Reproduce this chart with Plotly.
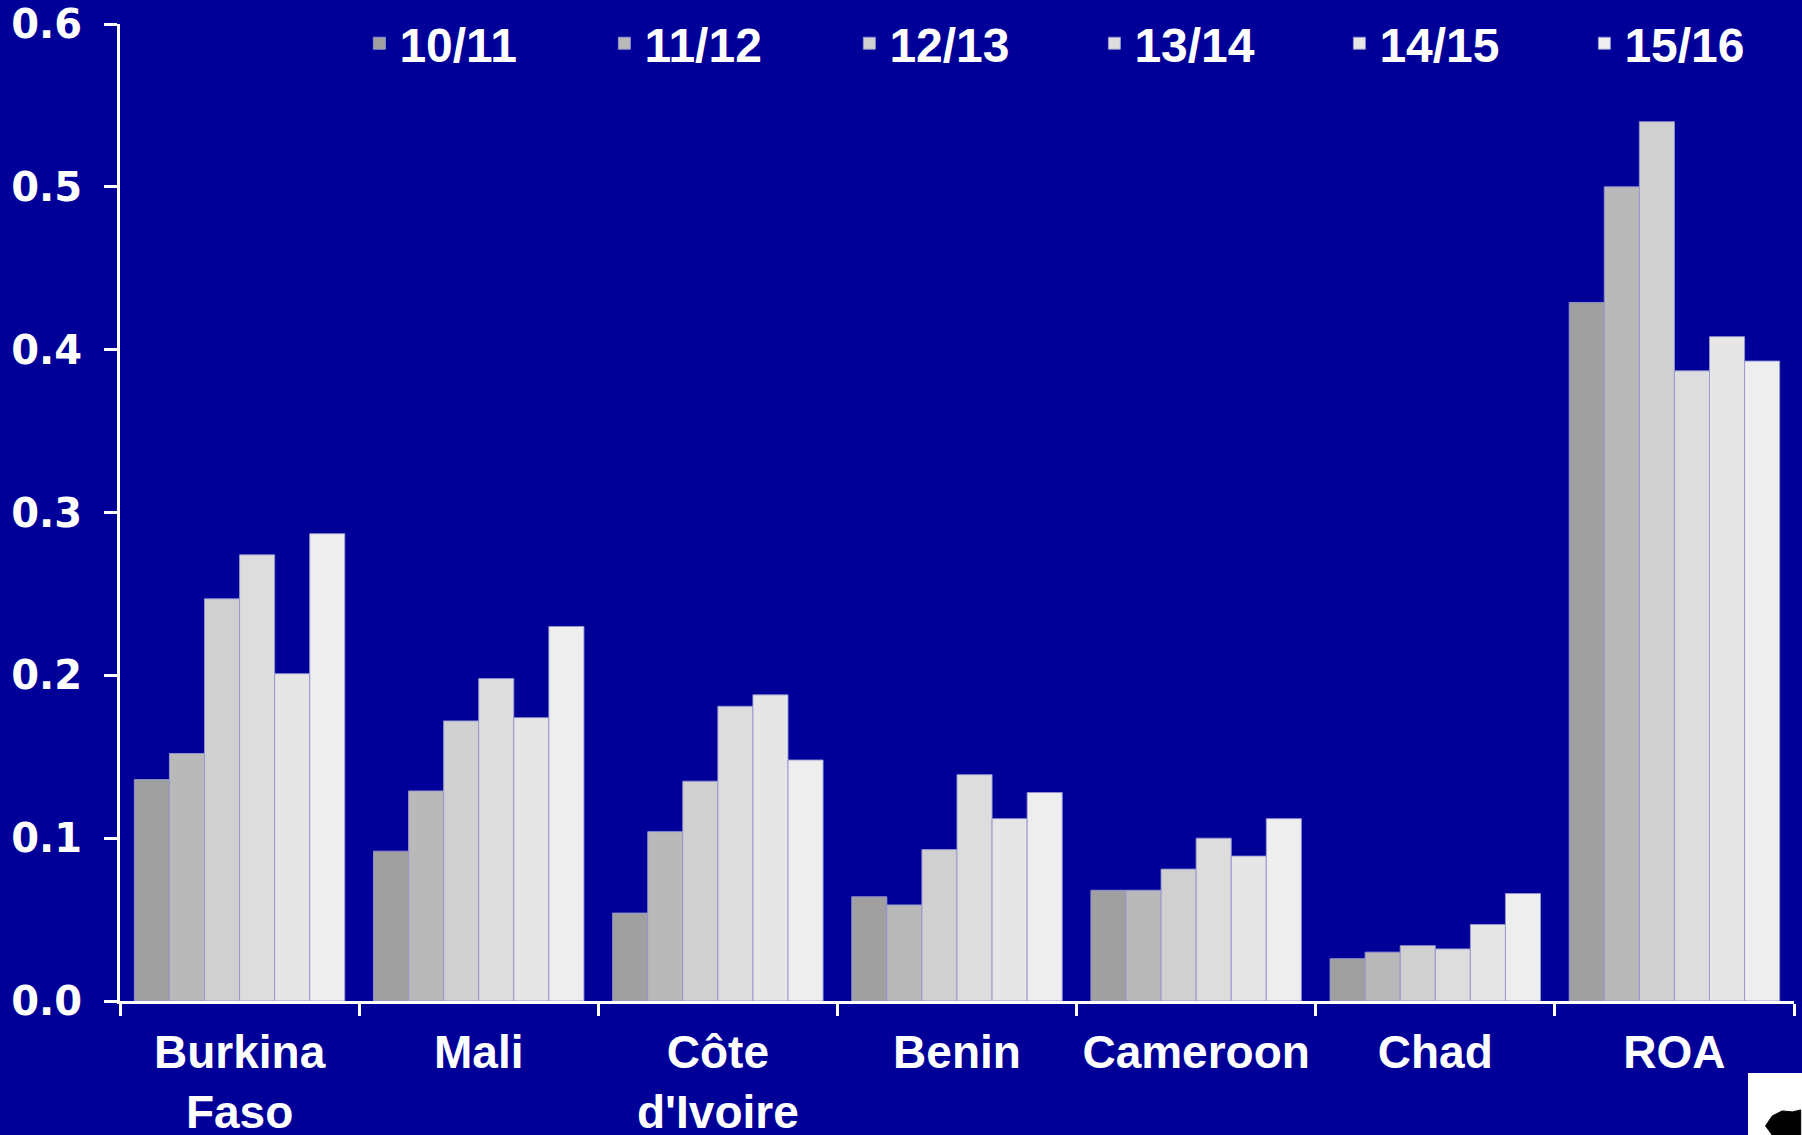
import plotly.graph_objects as go

countries = ['Burkina<br>Faso', 'Mali', "Côte<br>d'Ivoire", 'Benin', 'Cameroon', 'Chad', 'ROA']
seasons = ['10/11', '11/12', '12/13', '13/14', '14/15', '15/16']

# values per season, one per country
s1011 = [0.136, 0.092, 0.054, 0.064, 0.068, 0.026, 0.429]
s1112 = [0.152, 0.129, 0.104, 0.059, 0.068, 0.030, 0.500]
s1213 = [0.247, 0.172, 0.135, 0.093, 0.081, 0.034, 0.540]
s1314 = [0.274, 0.198, 0.181, 0.139, 0.100, 0.032, 0.387]
s1415 = [0.201, 0.174, 0.188, 0.112, 0.089, 0.047, 0.408]
s1516 = [0.287, 0.230, 0.148, 0.128, 0.112, 0.066, 0.393]

colors = ['#A0A0A0', '#B9B9B9', '#D0D0D0', '#DDDDDD', '#E6E6E6', '#EEEEEE']
series = [s1011, s1112, s1213, s1314, s1415, s1516]

bg = '#000099'
bold = dict(family='Liberation Sans, Arial', color='white', weight='bold')

fig = go.Figure()
for name, vals, col in zip(seasons, series, colors):
    fig.add_trace(go.Bar(
        x=countries, y=vals, name=name,
        marker=dict(color=col, line=dict(color='rgba(150,150,210,0.9)', width=1)),
    ))

fig.update_layout(
    width=1802, height=1135,
    paper_bgcolor=bg, plot_bgcolor=bg,
    barmode='group', bargap=0.12, bargroupgap=0,
    margin=dict(l=120, r=8, t=24, b=134, autoexpand=False),
    font=dict(size=46, **bold),
    showlegend=True,
    legend=dict(
        orientation='h', x=0.143, y=0.98, xanchor='left', yanchor='middle',
        bgcolor='rgba(0,0,0,0)', entrywidth=200, entrywidthmode='pixels',
        font=dict(size=48, **bold), traceorder='normal',
    ),
    xaxis=dict(
        showline=True, linecolor='white', linewidth=3,
        ticks='outside', tickson='boundaries', ticklen=12, tickwidth=3, tickcolor='white',
        showgrid=False, tickfont=dict(size=46, **bold),
        tickangle=0, ticklabelstandoff=9,
    ),
    yaxis=dict(
        range=[0, 0.6], dtick=0.1, tickformat='.1f',
        showline=True, linecolor='white', linewidth=3,
        ticks='outside', ticklen=13, tickwidth=3, tickcolor='white',
        showgrid=False, zeroline=False, ticklabelstandoff=14,
        tickfont=dict(size=40, color='white', family='DejaVu Sans', weight='bold'),
    ),
)

# logo box in bottom-right corner
fig.add_shape(type='rect', xref='paper', yref='paper',
              x0=(1748 - 120) / 1674, x1=1.01, y0=-134 / 977 - 0.01, y1=-(1073 - 1001) / 977,
              fillcolor='white', line=dict(width=0), layer='above')
fig.add_shape(type='path', xref='paper', yref='paper',
              path='M 0.9895,-0.1432 L 0.9830,-0.1278 L 0.9870,-0.1176 L 0.9930,-0.1125 L 0.9990,-0.1135 L 1.0040,-0.1115 L 1.0040,-0.1432 Z',
              fillcolor='black', line=dict(color='black', width=1), layer='above')

fig.write_html('out.html', config={'displayModeBar': False},
               post_script="document.body.style.margin='0';")
